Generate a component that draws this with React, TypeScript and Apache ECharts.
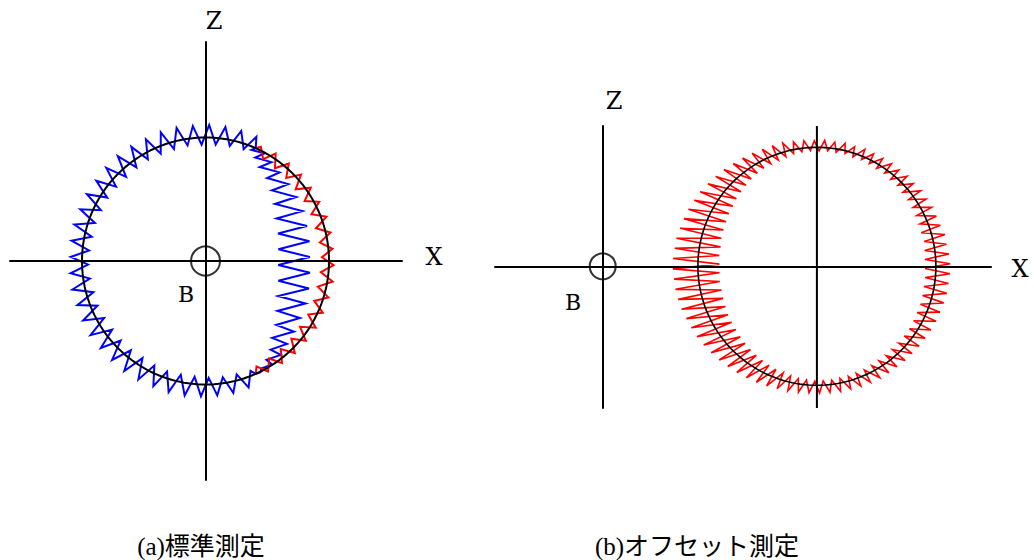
import React, { useEffect, useRef } from "react";
import * as echarts from "echarts";

// Ballbar radius, normalised; error traces are drawn in the same units.
const RADIUS = 100;

// (a) standard measurement -------------------------------------------------
// Red trace: right arc, from +66° clockwise to -66°, half-amplitude per tooth.
const A_RED_FROM = 66;
const A_RED_TO = -66;
const A_RED_TEETH = [4, 5, 5, 5.5, 5, 5, 5.5, 5, 4.5, 5, 5.5, 5, 5, 5.5, 5, 5, 4.5, 4];
const A_RED_BIAS = -1.2;

// Blue trace: outer arc from 66° round the left side to 294°.
const A_BLUE_OUTER_FROM = 66;
const A_BLUE_OUTER_TO = 294;
const A_BLUE_OUTER_TEETH = [
  6.5, 7, 7.5, 8, 7.5, 8, 8, 7.5, 8, 8.5, 8, 7.5, 8, 7.5, 8, 7.5, 7, 7.5, 8, 7.5, 8,
  8.5, 8, 8, 8.5, 8, 7.5, 8, 8, 7.5, 7, 7, 6,
];
const A_BLUE_OUTER_BIAS = 2.2;

// Blue trace: right side from -66° back up to 66°, pulled in along X.
const A_BLUE_INNER_FROM = -66;
const A_BLUE_INNER_TO = 66;
const A_BLUE_INNER_SHIFT = [
  -1.6, -5.7, -10.5, -16.2, -19.4, -22.7, -25, -26.7, -28, -28, -26.7, -25, -22.7, -20.2,
  -17.8, -15.4, -10.5, -4,
];
const A_BLUE_INNER_TEETH = [
  2.4, 4.9, 6.5, 8.1, 8.9, 10.5, 12.1, 13, 13, 12.5, 12.1, 11.3, 9.7, 8.1, 6.5, 5.7, 4, 2.4,
];

// (b) offset measurement ---------------------------------------------------
const B_CENTER_X = 180;
const B_RED_FROM = 0;
const B_RED_TO = 360;
const B_RED_TEETH = [
  // 0° .. 90°
  10.5, 10, 9, 9.5, 8, 7.5, 7, 6.5, 6.5, 5.5, 6, 5, 5.5, 5, 4.5, 5, 4, 4.5, 4, 4.5,
  // 90° .. 180°
  4, 4.5, 5, 6, 7, 7.5, 8.5, 9.5, 10.5, 12, 13, 14, 15.5, 16, 17, 17.5, 18, 19, 19, 19.5,
  // 180° .. 270°
  19.5, 19, 19, 18.5, 18, 17, 16.5, 16, 15, 14, 13, 12, 11, 10, 9, 8, 7, 6, 5.5, 5,
  // 270° .. 360°
  5, 5, 5.5, 5.5, 6, 6, 6.5, 7, 7, 7.5, 7.5, 8, 8, 8.5, 9, 9, 9.5, 10, 10, 10.5,
];
const B_RED_BIAS = 1.5;
// The offset error acts mostly along X, so its teeth lean towards horizontal.
const B_Z_WEIGHT = 0.45;

const AXIS_LABELS = ["X", "Z", "B"];
const CAPTIONS = ["(a)標準測定", "(b)オフセット測定"];

const rad = (d: number) => (d * Math.PI) / 180;

function onCircle(cx: number, deg: number, off: number): number[] {
  const r = RADIUS + off;
  return [cx + r * Math.cos(rad(deg)), r * Math.sin(rad(deg))];
}

function circlePoints(cx: number): number[][] {
  const pts: number[][] = [];
  for (let d = 0; d <= 360; d += 2) pts.push(onCircle(cx, d, 0));
  return pts;
}

// Zigzag whose teeth point along a direction between radial (zWeight 1) and X.
function radialTrace(
  cx: number,
  from: number,
  to: number,
  teeth: number[],
  bias: number,
  zWeight = 1
) {
  const step = (to - from) / teeth.length;
  const at = (deg: number, a: number) => {
    const base = onCircle(cx, deg, bias);
    const dx = Math.cos(rad(deg));
    const dz = Math.sin(rad(deg)) * zWeight;
    const n = Math.hypot(dx, dz) || 1;
    return [base[0] + (a * dx) / n, base[1] + (a * dz) / n];
  };
  const pts: number[][] = [onCircle(cx, from, 0)];
  teeth.forEach((a, k) => {
    pts.push(at(from + (k + 0.25) * step, a));
    pts.push(at(from + (k + 0.75) * step, -a));
  });
  pts.push(onCircle(cx, to, 0));
  return pts;
}

// Zigzag whose teeth point along X, around a shifted midline.
function xTrace(from: number, to: number, shift: number[], teeth: number[]) {
  const step = (to - from) / teeth.length;
  const pts: number[][] = [onCircle(0, from, 0)];
  teeth.forEach((a, k) => {
    const p1 = onCircle(0, from + (k + 0.25) * step, 0);
    const p2 = onCircle(0, from + (k + 0.75) * step, 0);
    pts.push([p1[0] + shift[k] + a, p1[1]]);
    pts.push([p2[0] + shift[k] - a, p2[1]]);
  });
  pts.push(onCircle(0, to, 0));
  return pts;
}

const AXIS_STYLE = {
  type: "value" as const,
  axisLine: { show: true, onZero: true, lineStyle: { color: "#000", width: 2 } },
  axisTick: { show: false },
  axisLabel: { show: false },
  splitLine: { show: false },
  z: 4,
};

function line(gridIndex: number, data: number[][], color: string, width: number, z = 2) {
  return {
    type: "line",
    xAxisIndex: gridIndex,
    yAxisIndex: gridIndex,
    data,
    showSymbol: false,
    symbol: "none",
    clip: false,
    silent: true,
    z,
    lineStyle: { color, width, join: "miter" },
  };
}

function marker(gridIndex: number, size: number) {
  return {
    type: "scatter",
    xAxisIndex: gridIndex,
    yAxisIndex: gridIndex,
    data: [[0, 0]],
    symbol: "circle",
    symbolSize: size,
    silent: true,
    z: 5,
    itemStyle: { color: "rgba(0,0,0,0)", borderColor: "#000", borderWidth: 2 },
  };
}

function label(text: string, x: number, y: number, size: number, family: string) {
  return {
    type: "text",
    x,
    y,
    silent: true,
    style: {
      text,
      fill: "#000",
      fontSize: size,
      fontFamily: family,
      align: "center",
      verticalAlign: "middle",
    },
  };
}

export default function App() {
  const ref = useRef<HTMLDivElement>(null);

  useEffect(() => {
    if (!ref.current) return;
    const chart = echarts.init(ref.current, undefined, { renderer: "svg" });

    const aBlue = [
      ...radialTrace(0, A_BLUE_OUTER_FROM, A_BLUE_OUTER_TO, A_BLUE_OUTER_TEETH, A_BLUE_OUTER_BIAS),
      ...xTrace(A_BLUE_INNER_FROM, A_BLUE_INNER_TO, A_BLUE_INNER_SHIFT, A_BLUE_INNER_TEETH),
    ];
    const aRed = radialTrace(0, A_RED_FROM, A_RED_TO, A_RED_TEETH, A_RED_BIAS);
    const bRed = radialTrace(
      B_CENTER_X,
      B_RED_FROM,
      B_RED_TO,
      B_RED_TEETH,
      B_RED_BIAS,
      B_Z_WEIGHT
    );

    const bYMin = -119.1;
    const bYMax = 117.9;
    const letterFamily = "DejaVu Serif";
    const captionFamily = "Liberation Serif, Noto Sans CJK JP";

    chart.setOption({
      animation: false,
      backgroundColor: "#fff",
      grid: [
        { left: 10, top: 42, width: 392, height: 438, outerBoundsMode: "none" },
        { left: 495, top: 126, width: 496, height: 282, outerBoundsMode: "none" },
      ],
      xAxis: [
        { ...AXIS_STYLE, gridIndex: 0, min: -158.3, max: 159.1 },
        { ...AXIS_STYLE, gridIndex: 1, min: -90.5, max: 326.3 },
      ],
      yAxis: [
        { ...AXIS_STYLE, gridIndex: 0, min: -177.3, max: 177.3 },
        { ...AXIS_STYLE, gridIndex: 1, min: bYMin, max: bYMax },
      ],
      series: [
        line(0, aBlue, "#0000ff", 2),
        line(0, aRed, "#ff0000", 2),
        line(0, circlePoints(0), "#000", 2, 3),
        marker(0, 29),
        line(1, bRed, "#ff0000", 1.6),
        line(1, circlePoints(B_CENTER_X), "#000", 1.6, 3),
        line(1, [[B_CENTER_X, bYMin], [B_CENTER_X, bYMax]], "#000", 2, 4),
        marker(1, 26),
      ],
      graphic: [
        label(AXIS_LABELS[1], 214, 21, 24, letterFamily),
        label(AXIS_LABELS[0], 434, 257, 24, letterFamily),
        label(AXIS_LABELS[2], 186, 294, 22, letterFamily),
        label(AXIS_LABELS[1], 614, 101, 24, letterFamily),
        label(AXIS_LABELS[0], 1020, 269, 24, letterFamily),
        label(AXIS_LABELS[2], 573, 302, 22, letterFamily),
        label(CAPTIONS[0], 201, 546, 25, captionFamily),
        label(CAPTIONS[1], 697, 546, 25, captionFamily),
      ],
    });

    return () => chart.dispose();
  }, []);

  return (
    <div
      ref={ref}
      style={{ position: "fixed", left: 0, top: 0, width: 1034, height: 560, background: "#fff" }}
    />
  );
}
